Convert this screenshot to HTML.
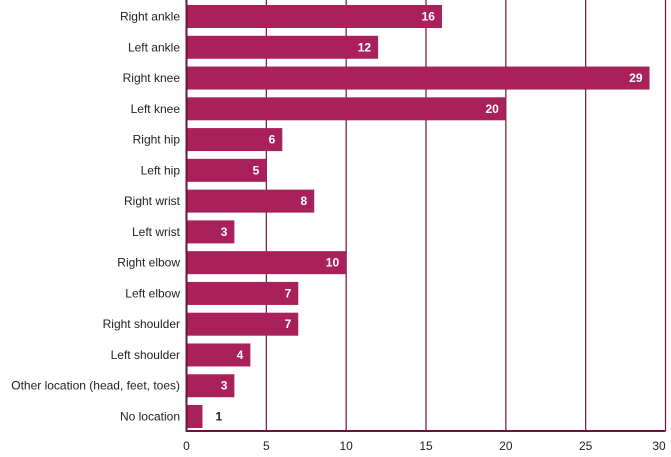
<!DOCTYPE html>
<html><head><meta charset="utf-8"><style>
body{margin:0;background:#fff;font-family:"Liberation Sans",sans-serif}
svg text{font-family:"Liberation Sans",sans-serif}
</style></head><body>
<svg id="c" width="671" height="452"></svg>
<script>
const categories=["Right ankle","Left ankle","Right knee","Left knee","Right hip","Left hip","Right wrist","Left wrist","Right elbow","Left elbow","Right shoulder","Left shoulder","Other location (head, feet, toes)","No location"];
const values=[16,12,29,20,6,5,8,3,10,7,7,4,3,1];
const ticks=[0,5,10,15,20,25,30];
const svg=document.getElementById('c');
const NS='http://www.w3.org/2000/svg';
const x0=186.5,x1=665.5,xMax=30;
const X=v=>x0+(x1-x0)*v/xMax;
const top0=5,pitch=30.77,bh=23;
const Y=i=>top0+i*pitch;
function mk(t,a){const e=document.createElementNS(NS,t);for(const k in a)e.setAttribute(k,a[k]);svg.appendChild(e);return e;}
ticks.forEach(t=>{
 if(t>0){const g=mk('line',{x1:X(t),x2:X(t),y1:0,y2:431,stroke:'#6e1141','stroke-width':1.2});
 
 }
 const tl=mk('text',{x:Math.min(X(t),659),y:450,'text-anchor':'middle','font-size':12,fill:'#222'});
 tl.textContent=t;
 
 
});
categories.forEach((c,i)=>{
 const r=mk('rect',{x:x0,y:Y(i),width:X(values[i])-x0,height:bh,fill:'#a8215a'});
 
 
 const l=mk('text',{x:180,y:Y(i)+bh/2+4,'text-anchor':'end','font-size':12,fill:'#222'});
 l.textContent=c;
 
 
 const inside=X(values[i])-x0>30;
 const v=mk('text',{x:inside?X(values[i])-7:X(values[i])+13,y:Y(i)+bh/2+4,'text-anchor':inside?'end':'start','font-size':12,'font-weight':'bold',fill:inside?'#fff':'#222'});
 v.textContent=values[i];
 
 
});
const ax=mk('line',{x1:x0,x2:x1,y1:431,y2:431,stroke:'#6e1141','stroke-width':2});


const ay=mk('line',{x1:x0,x2:x0,y1:0,y2:432,stroke:'#6e1141','stroke-width':2});


</script>
</body></html>
